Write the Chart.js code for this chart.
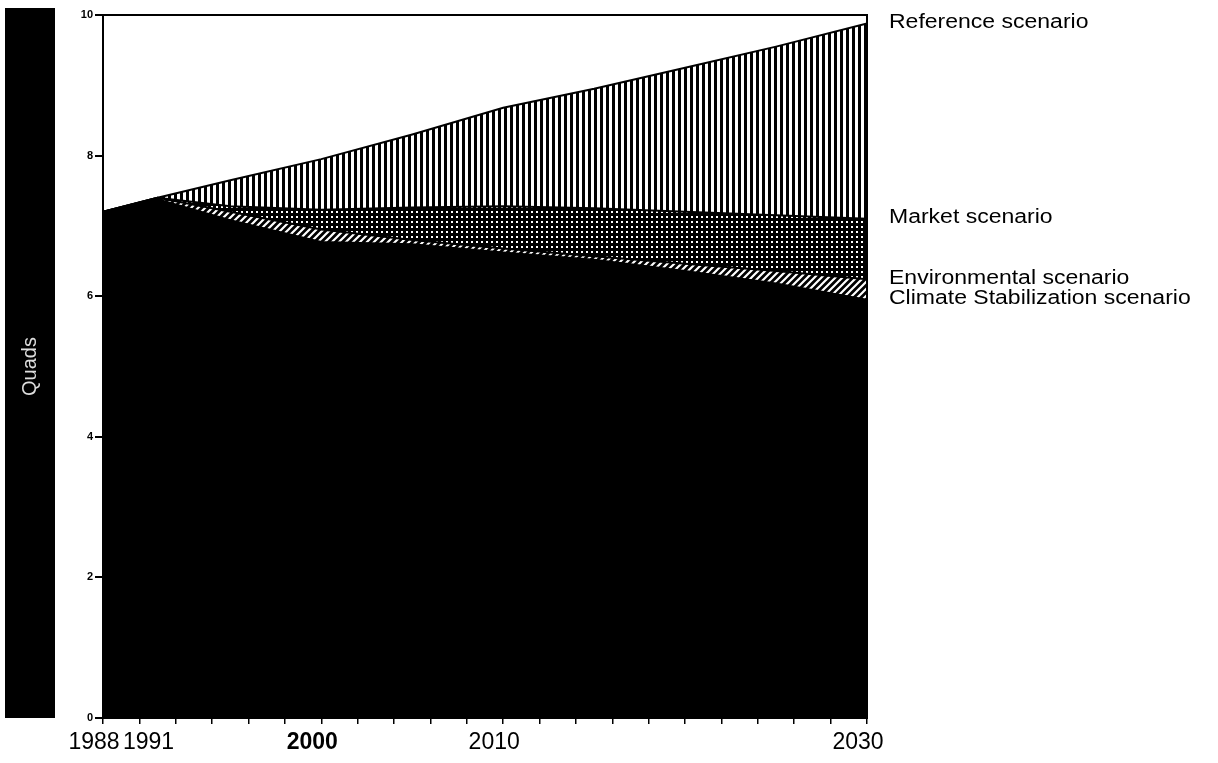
<!DOCTYPE html>
<html>
<head>
<meta charset="utf-8">
<script src="https://cdn.jsdelivr.net/npm/chart.js@4/dist/chart.umd.min.js"></script>
<style>
  html, body { margin: 0; padding: 0; background: #fff; }
  #wrap { width: 1218px; height: 763px; }
</style>
</head>
<body>
<div id="wrap"><canvas id="c" width="1218" height="763"></canvas></div>
<script>
// ---- data ----
const YEARS = [1988, 1991, 1995, 2000, 2005, 2010, 2015, 2020, 2025, 2030];
const REFERENCE = [7.2, 7.4, 7.65, 7.95, 8.3, 8.68, 8.95, 9.25, 9.55, 9.88];
const MARKET = [7.2, 7.4, 7.28, 7.23, 7.26, 7.28, 7.25, 7.2, 7.15, 7.1];
const ENVIRONMENTAL = [7.2, 7.4, 7.2, 6.95, 6.8, 6.68, 6.57, 6.46, 6.36, 6.24];
const CLIMATE_STAB = [7.2, 7.38, 7.08, 6.77, 6.74, 6.62, 6.52, 6.36, 6.18, 5.95];
const SERIES_LABELS = ['Climate Stabilization scenario', 'Environmental scenario', 'Market scenario', 'Reference scenario'];
const X_LABEL_TICKS = [1988, 1991, 2000, 2010, 2030];
const X_MINOR_TICKS = [1988, 1990, 1992, 1994, 1996, 1998, 2000, 2002, 2004, 2006, 2008, 2010,
  2012, 2014, 2016, 2018, 2020, 2022, 2024, 2026, 2028, 2030];
const Y_TICKS = [0, 2, 4, 6, 8, 10];
const Y_TITLE = 'Quads';

// ---- patterns ----
function makePattern(w, h, draw) {
  const c = document.createElement('canvas');
  c.width = w; c.height = h;
  const g = c.getContext('2d');
  draw(g, w, h);
  return document.getElementById('c').getContext('2d').createPattern(c, 'repeat');
}
const vertStripes = makePattern(6, 6, (g, w, h) => {
  g.fillStyle = '#fff'; g.fillRect(0, 0, w, h);
  g.fillStyle = '#000'; g.fillRect(0, 0, 3, h);
});
const dots = makePattern(5, 5, (g, w, h) => {
  g.fillStyle = '#000'; g.fillRect(0, 0, w, h);
  g.fillStyle = '#fff'; g.fillRect(1, 1, 2, 2);
});
const hatch = makePattern(7, 7, (g, w, h) => {
  g.fillStyle = '#000'; g.fillRect(0, 0, w, h);
  g.strokeStyle = '#fff'; g.lineWidth = 2.2;
  g.beginPath();
  g.moveTo(-1, h + 1); g.lineTo(w + 1, -1);
  g.moveTo(-1, 1); g.lineTo(1, -1);
  g.moveTo(w - 1, h + 1); g.lineTo(w + 1, h - 1);
  g.stroke();
});

const pts = arr => YEARS.map((y, i) => ({ x: y, y: arr[i] }));

const sideBar = {
  id: 'sideBar',
  beforeDraw(chart) {
    const { ctx, chartArea } = chart;
    const ys = chart.scales.y;
    ctx.save();
    ctx.fillStyle = '#000';
    ctx.fillRect(ys.left, 8, 50, chartArea.bottom - 8);
    ctx.restore();
  }
};
const frame = {
  id: 'frame',
  afterDatasetsDraw(chart) {
    const { ctx, chartArea: a } = chart;
    ctx.save();
    ctx.strokeStyle = '#000';
    ctx.lineWidth = 2;
    ctx.strokeRect(a.left, a.top, a.right - a.left, a.bottom - a.top);
    ctx.restore();
  }
};
const endLabels = {
  id: 'endLabels',
  afterDraw(chart) {
    const { ctx, chartArea: a } = chart;
    ctx.save();
    ctx.fillStyle = '#000';
    ctx.font = '20px "Liberation Sans", Arial, sans-serif';
    ctx.textBaseline = 'middle';
    ctx.textAlign = 'left';
    let prevY = null;
    const items = chart.data.datasets.map((ds, i) => {
      const meta = chart.getDatasetMeta(i);
      const last = meta.data[meta.data.length - 1];
      return { label: ds.label, y: last.y };
    }).sort((p, q) => p.y - q.y);
    items.forEach(it => {
      let y = Math.max(it.y - 1, a.top + 5);
      if (prevY !== null && y - prevY < 18) y = prevY + 18;
      prevY = y;
      ctx.save();
      ctx.translate(a.right + 22, y);
      ctx.scale(1.15, 1);
      ctx.fillText(it.label, 0, 0);
      ctx.restore();
    });
    ctx.restore();
  }
};

const lineCommon = {
  borderColor: '#000', borderWidth: 2, pointRadius: 0, tension: 0
};

new Chart(document.getElementById('c'), {
  type: 'line',
  data: {
    datasets: [
      { ...lineCommon, label: SERIES_LABELS[0], data: pts(CLIMATE_STAB), fill: 'origin', backgroundColor: '#000' },
      { ...lineCommon, label: SERIES_LABELS[1], data: pts(ENVIRONMENTAL), fill: '-1', backgroundColor: hatch },
      { ...lineCommon, label: SERIES_LABELS[2], data: pts(MARKET), fill: '-1', backgroundColor: dots },
      { ...lineCommon, label: SERIES_LABELS[3], data: pts(REFERENCE), fill: '-1', backgroundColor: vertStripes }
    ]
  },
  options: {
    responsive: false,
    animation: false,
    layout: { padding: { left: 5, right: 351, top: 15, bottom: 0 } },
    plugins: { legend: { display: false }, tooltip: { enabled: false } },
    scales: {
      x: {
        type: 'linear', min: 1988, max: 2030, position: 'bottom', weight: 0,
        afterBuildTicks: s => { s.ticks = X_MINOR_TICKS.map(v => ({ value: v })); },
        afterFit: s => { s.height = 6; },
        ticks: { display: false },
        grid: { display: true, drawOnChartArea: false, drawTicks: true, tickLength: 6, color: '#000', lineWidth: 1.5 },
        border: { display: true, color: '#000', width: 2 }
      },
      xl: {
        type: 'linear', min: 1988, max: 2030, position: 'bottom', weight: 1,
        afterBuildTicks: s => { s.ticks = X_LABEL_TICKS.map(v => ({ value: v })); },
        afterFit: s => { s.height = 39; },
        ticks: {
          autoSkip: false, maxRotation: 0, padding: 5, color: '#000', labelOffset: -9,
          font: c => ({ family: '"Liberation Sans", Arial, sans-serif', size: 23, weight: c.tick && c.tick.value === 2000 ? 'bold' : 'normal' }),
          callback: v => String(v)
        },
        grid: { display: false, drawTicks: false },
        border: { display: false }
      },
      y: {
        type: 'linear', min: 0, max: 10,
        afterBuildTicks: s => { s.ticks = Y_TICKS.map(v => ({ value: v })); },
        afterFit: s => { s.width = 98; },
        ticks: { color: '#000', padding: 2, font: { family: '"Liberation Sans", Arial, sans-serif', size: 11, weight: 'bold' } },
        grid: { display: true, drawOnChartArea: false, drawTicks: true, tickLength: 8, color: '#000', lineWidth: 2 },
        border: { display: true, color: '#000', width: 2 },
        title: {
          display: true, text: Y_TITLE, color: '#ddd',
          font: { family: '"Liberation Sans", Arial, sans-serif', size: 20 },
          padding: { top: 13, bottom: 0 }
        }
      }
    }
  },
  plugins: [sideBar, frame, endLabels]
});
</script>
</body>
</html>
